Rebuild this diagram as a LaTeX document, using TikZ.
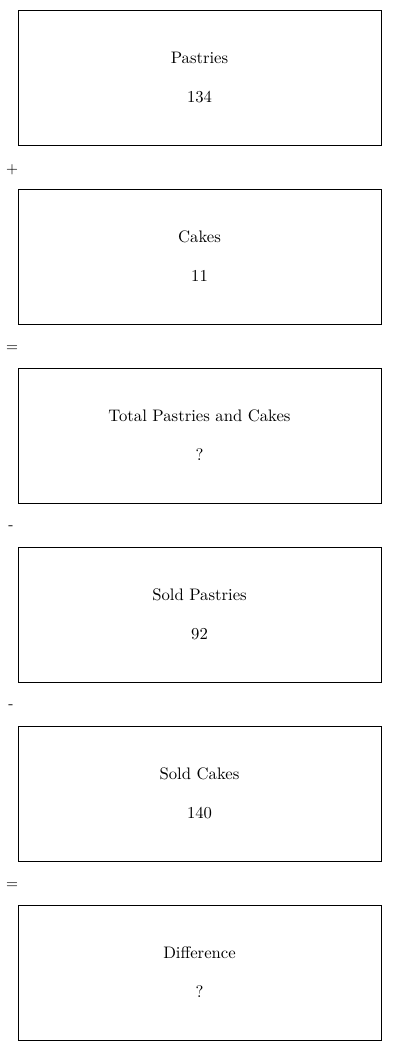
\documentclass[tikz,border=0pt]{standalone}
\usepackage{tikz}
\usetikzlibrary{positioning}

\begin{document}
\begin{tikzpicture}[x=0.6pt,y=-0.6pt]
  \path[use as bounding box] (0,0) rectangle (400,1051);

  \tikzset{
    qtyBox/.style={
      draw=black,
      line width=.6pt,
      minimum width=217.8pt,
      minimum height=81pt,
      inner sep=0pt,
      align=center,
      font=\normalsize,
      execute at begin node=\rule{0pt}{8.8pt}
    },
    qtyOp/.style={
      inner sep=0pt,
      font=\small
    }
  }

  \node[qtyBox] (pastries) at (199.5,77.5)  {Pastries\\[11.4pt]134};
  \node[qtyBox] (cakes)    at (199.5,256.5) {Cakes\\[11.4pt]11};
  \node[qtyBox] (total)    at (199.5,435.5) {Total Pastries and Cakes\\[11.4pt]?};
  \node[qtyBox] (soldP)    at (199.5,614.5) {Sold Pastries\\[11.4pt]92};
  \node[qtyBox] (soldC)    at (199.5,793.5) {Sold Cakes\\[11.4pt]140};
  \node[qtyBox] (diff)     at (199.5,972.5) {Difference\\[11.4pt]?};

  % operators between the boxes, at the left margin
  \node[qtyOp] (opPlus)   at (12,170) {+};
  \node[qtyOp] (opEqA)    at (12,349) {=};
  \node[qtyOp] (opMinusA) at (11,528) {-};
  \node[qtyOp] (opMinusB) at (11,707) {-};
  \node[qtyOp] (opEqB)    at (12,886) {=};
\end{tikzpicture}
\end{document}
